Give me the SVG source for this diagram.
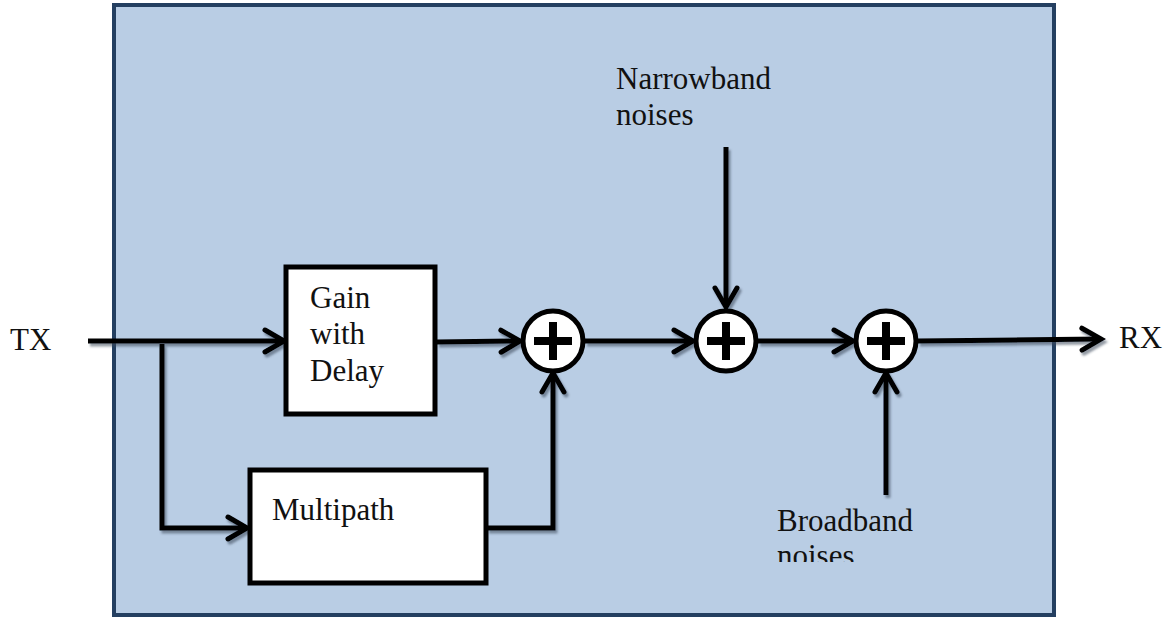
<svg xmlns="http://www.w3.org/2000/svg" width="1173" height="620" viewBox="0 0 1173 620">
  <style>
    .lbl { font-family: "Liberation Serif", "Times New Roman", serif; font-size: 31px; fill: #111; }
    .box { fill: #ffffff; stroke: #000; stroke-width: 5; }
    .sum circle { fill: #ffffff; stroke: #000; stroke-width: 5; }
    .sum rect { fill: #000; }
    .wire { fill: none; stroke: #000; stroke-width: 5; stroke-linejoin: miter; }
  </style>
  <defs>
    <marker id="chev" markerUnits="userSpaceOnUse" viewBox="-24 -14 28 28" refX="0" refY="0" markerWidth="28" markerHeight="28" orient="auto" overflow="visible">
      <path d="M -19 -11 L 0 0 L -19 11" fill="none" stroke="#000" stroke-width="5" stroke-linecap="round" stroke-linejoin="miter"/>
    </marker>
    <filter id="shade" x="-10%" y="-10%" width="130%" height="130%">
      <feDropShadow dx="2" dy="3" stdDeviation="1" flood-color="#3a4a5a" flood-opacity="0.55"/>
    </filter>
    <clipPath id="bottomCut">
      <rect x="700" y="480" width="300" height="82"/>
    </clipPath>
  </defs>

  <!-- channel frame -->
  <rect id="frame" x="114" y="5" width="940" height="610" fill="#b9cde4" stroke="#243f60" stroke-width="4"/>

  <!-- connectors -->
  <g id="connectors" class="wire" filter="url(#shade)">
    <path d="M 88 341 L 284 341" marker-end="url(#chev)"/>
    <path d="M 162 344 L 162 528 L 247 528" marker-end="url(#chev)"/>
    <path d="M 437 342 L 520 341" marker-end="url(#chev)"/>
    <path d="M 487 528 L 553 528 L 553 373" marker-end="url(#chev)"/>
    <path d="M 585 341 L 693 341" marker-end="url(#chev)"/>
    <path d="M 726 147 L 726 307" marker-end="url(#chev)"/>
    <path d="M 758 341 L 853 341" marker-end="url(#chev)"/>
    <path d="M 886 495 L 886 373" marker-end="url(#chev)"/>
    <path d="M 918 341 L 1101 339" marker-end="url(#chev)"/>
  </g>

  <!-- gain block -->
  <g id="gain">
    <rect class="box" x="286" y="267" width="149" height="147"/>
    <text class="lbl" x="310" y="308">Gain</text>
    <text class="lbl" x="310" y="344">with</text>
    <text class="lbl" x="310" y="381">Delay</text>
  </g>

  <!-- multipath block -->
  <g id="multipath">
    <rect class="box" x="250" y="470" width="236" height="113"/>
    <text class="lbl" x="272" y="520">Multipath</text>
  </g>

  <!-- summing junctions -->
  <g id="sum1" class="sum">
    <circle cx="553" cy="341" r="30"/>
    <rect x="534" y="337" width="38" height="8"/>
    <rect x="549" y="322" width="8" height="38"/>
  </g>
  <g id="sum2" class="sum">
    <circle cx="726" cy="341" r="30"/>
    <rect x="707" y="337" width="38" height="8"/>
    <rect x="722" y="322" width="8" height="38"/>
  </g>
  <g id="sum3" class="sum">
    <circle cx="886" cy="341" r="30"/>
    <rect x="867" y="337" width="38" height="8"/>
    <rect x="882" y="322" width="8" height="38"/>
  </g>

  <!-- terminals and noise sources -->
  <g id="tx">
    <text class="lbl" x="10" y="350">TX</text>
  </g>
  <g id="rx">
    <text class="lbl" x="1119" y="348">RX</text>
  </g>
  <g id="narrowband">
    <text class="lbl" x="616" y="89">Narrowband</text>
    <text class="lbl" x="616" y="125">noises</text>
  </g>
  <g id="broadband" clip-path="url(#bottomCut)">
    <text class="lbl" x="777" y="531">Broadband</text>
    <text class="lbl" x="777" y="566">noises</text>
  </g>
</svg>
